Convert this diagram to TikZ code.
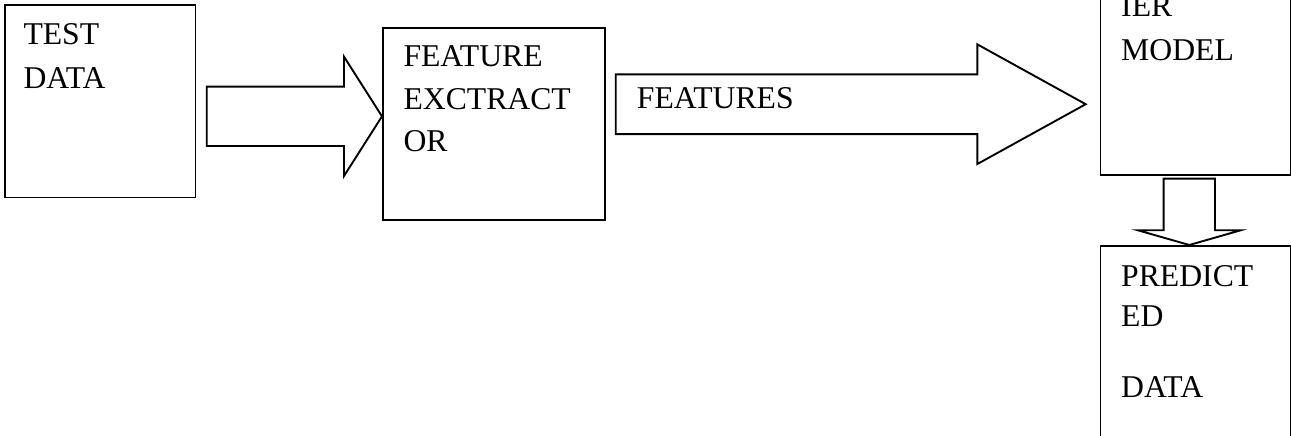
\documentclass[tikz,border=0pt]{standalone}
\usepackage{fontspec}
\setmainfont{Liberation Serif}
\usetikzlibrary{calc}
\begin{document}
\begin{tikzpicture}[x=1pt,y=-1pt,
  box/.style={draw, line width=1.9pt, inner sep=0pt, anchor=north west},
  blockarrow/.style={draw, line width=1.9pt, line join=miter},
  lbl/.style={anchor=base west, inner sep=0pt, font=\fontsize{31.7}{38}\selectfont}]
\useasboundingbox (0,0) rectangle (1291,436);
\clip (0,0) rectangle (1291,436);

% boxes
\node[box, minimum width=190.5pt, minimum height=192.5pt] (test) at (4,4) {};
\node[box, minimum width=222pt, minimum height=191.5pt] (feat) at (382,27.5) {};
\node[box, minimum width=190.5pt, minimum height=214pt] (clf) at (1099.5,-40) {};
\node[box, minimum width=190.5pt, minimum height=240pt] (pred) at (1099.5,245) {};

% box labels
\node[lbl] (t1) at (23.3,45) {TEST};
\node[lbl] (t2) at (23.3,88.3) {DATA};
\node[lbl] (f1) at (403.3,66.7) {FEATURE};
\node[lbl] (f2) at (403.3,109.3) {EXCTRACT};
\node[lbl] (f3) at (403.3,151.7) {OR};
\node[lbl] (c2) at (1121,16.7) {IER};
\node[lbl] (c3) at (1121,60) {MODEL};
\node[lbl] (p1) at (1121,286) {PREDICT};
\node[lbl] (p2) at (1121,326.7) {ED};
\node[lbl] (p3) at (1121,397) {DATA};

% arrow: test data -> feature extractor
\coordinate (a1s) at (206.7,116.35);
\coordinate (a1t) at (feat.west |- a1s);
\draw[blockarrow] ($(a1s)+(0,-29.65)$) -- ++(137.3,0) -- ++(0,-30) -- (a1t)
  -- ($(a1s)+(137.3,59.65)$) -- ++(0,-30) -- ($(a1s)+(0,29.65)$) -- cycle;

% arrow: features -> classifier model
\coordinate (a2s) at (615.7,104.2);
\coordinate (a2t) at ($(clf.west |- a2s)+(-13.8,0)$);
\draw[blockarrow] ($(a2s)+(0,-29.85)$) -- ++(361.6,0) -- ++(0,-30) -- (a2t)
  -- ($(a2s)+(361.6,59.85)$) -- ++(0,-30) -- ($(a2s)+(0,29.85)$) -- cycle;
\node[lbl] (feats) at (636.7,109) {FEATURES};

% arrow: classifier model -> predicted data
\coordinate (a3s) at ($(clf.south)+(-6.4,2.7)$);
\coordinate (a3t) at (a3s |- pred.north);
\draw[blockarrow] ($(a3s)+(-25.65,0)$) -- ++(0,51.6) -- ++(-26,0) -- (a3t)
  -- ($(a3s)+(51.65,51.6)$) -- ++(-26,0) -- ($(a3s)+(25.65,0)$) -- cycle;
\end{tikzpicture}
\end{document}
